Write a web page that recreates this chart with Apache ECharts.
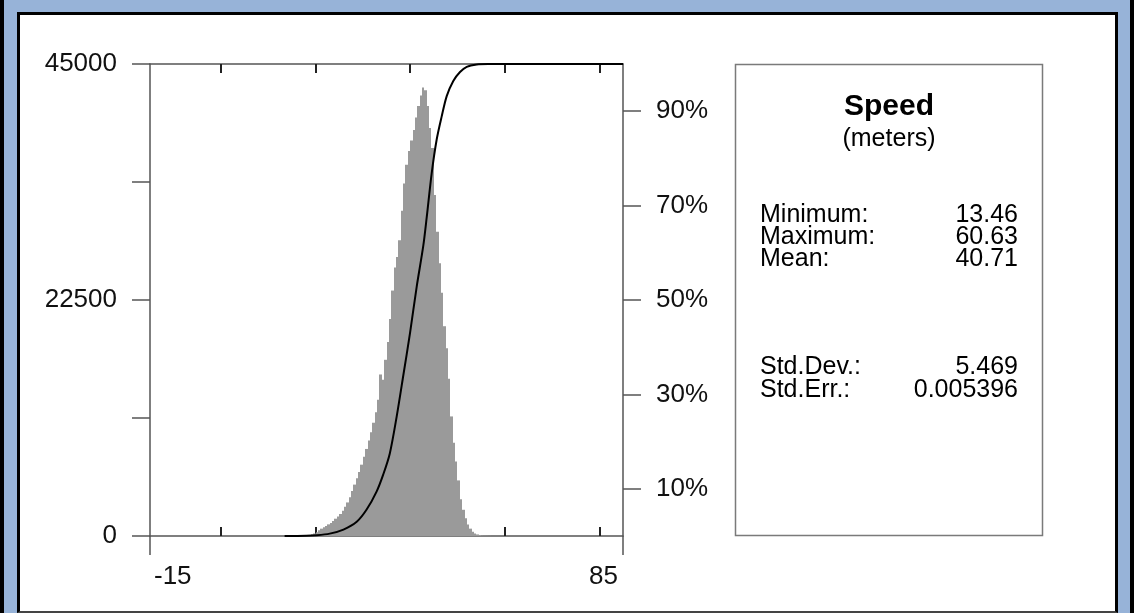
<!DOCTYPE html>
<html>
<head>
<meta charset="utf-8">
<script src="https://cdn.jsdelivr.net/npm/echarts@6/dist/echarts.min.js"></script>
<style>
  html, body { margin: 0; padding: 0; background: #fff; }
  #frame { position: absolute; left: 0; top: 0; width: 1134px; height: 613px; background: #97b3d8;
           border-left: 4px solid #000; border-right: 4px solid #000; box-sizing: border-box; }
  #inner { position: absolute; left: 17px; top: 12px; width: 1101px; height: 601px; background: #fff;
           border: 3px solid #000; border-bottom: 2px solid #444; box-sizing: border-box; }
  #chart { position: absolute; left: 0; top: 0; width: 1134px; height: 613px; }
</style>
</head>
<body>
<div id="frame"></div>
<div id="inner"></div>
<div id="chart"></div>
<script>
// ---- Data ----
const title = 'Speed';
const unitText = '(meters)';
const statLabels = ['Minimum:', 'Maximum:', 'Mean:', 'Std.Dev.:', 'Std.Err.:'];
const statValues = ['13.46', '60.63', '40.71', '5.469', '0.005396'];

const xTickLabels = [-15, 85];
const xInnerTicks = [0, 20, 40, 60, 80];
const yLeftLabels = [0, 22500, 45000];
const yRightLabels = [10, 30, 50, 70, 90];

// histogram: bins of width 0.5 starting at 13.5
const binStart = 13.5;
const binWidth = 0.5;
const binCounts = [
  2, 3, 4, 6, 8, 12, 18, 28, 42, 60,
  100, 170, 240, 360, 560, 700, 840, 960, 1110, 1250,
  1440, 1650, 1850, 2100, 2400, 2780, 3200, 3700, 4300, 4900,
  5500, 6100, 6800, 7550, 8300, 9100, 9900, 10800, 11800, 13000,
  15400, 14900, 16800, 18500, 20700, 23400, 25600, 26600, 28200, 31000,
  33600, 35400, 36700, 37700, 38700, 39900, 41000, 42000, 42750, 42500,
  41000, 38900, 37000, 32500, 29000, 26000, 23200, 20000, 17900, 15000,
  11400, 8900, 7100, 5300, 3500, 2500, 1700, 1100, 700, 400,
  250, 150, 90, 55, 35, 22, 15, 10, 7, 5,
  3, 2, 1, 1
];

// cumulative curve (percent)
const cdfX   = [13.46, 18, 20.2, 23.0, 25.9, 28.7, 30.8, 32.9, 34.3, 35.7, 37.15, 38.55, 39.97, 41.38, 42.78, 43.5, 44.56, 45.61, 46.67, 47.73, 49.12, 50.54, 51.96, 54.07, 56.5, 60.63, 85];
const cdfPct = [0, 0.05, 0.15, 0.5, 1.36, 3.0, 5.6, 9.4, 13.0, 17.5, 25.3, 34.0, 43.0, 52.8, 61.5, 67.5, 76.9, 84.0, 88.9, 93.2, 96.4, 98.3, 99.4, 99.9, 100, 100, 100];

// ---- Build ----
const histData = binCounts.map((c, i) => [binStart + i * binWidth, binStart + (i + 1) * binWidth, c]);
const cdfData = cdfX.map((x, i) => [x, cdfPct[i]]);

const FONT = 'Liberation Sans';
const axisColor = '#555';
const tickColor = '#222';
const plain = function (v) { return String(v); };

const chart = echarts.init(document.getElementById('chart'), null, { renderer: 'canvas' });

const baseX = {
  type: 'value', min: -15, max: 85, splitLine: { show: false },
};

const option = {
  backgroundColor: 'transparent',
  animation: false,
  grid: { left: 150, top: 64, width: 473, height: 472, containLabel: false },
  xAxis: [
    Object.assign({}, baseX, {
      position: 'bottom',
      axisLine: { show: true, onZero: false, lineStyle: { color: axisColor, width: 1.5 } },
      axisTick: { show: true, inside: true, length: 9, customValues: xInnerTicks, lineStyle: { color: tickColor, width: 2 } },
      axisLabel: { show: false }
    }),
    Object.assign({}, baseX, {
      position: 'bottom',
      axisLine: { show: false, onZero: false },
      axisTick: { show: true, length: 19, customValues: [xTickLabels[0]], lineStyle: { color: axisColor, width: 1.5 } },
      axisLabel: { show: true, customValues: [xTickLabels[0]], align: 'left', margin: 28, formatter: plain,
                   padding: [0, 0, 0, 4], fontSize: 26, fontFamily: FONT, color: '#111' }
    }),
    Object.assign({}, baseX, {
      position: 'bottom',
      axisLine: { show: false, onZero: false },
      axisTick: { show: true, length: 19, customValues: [xTickLabels[1]], lineStyle: { color: axisColor, width: 1.5 } },
      axisLabel: { show: true, customValues: [xTickLabels[1]], align: 'right', margin: 28, formatter: plain,
                   padding: [0, 5, 0, 0], fontSize: 26, fontFamily: FONT, color: '#111' }
    }),
    Object.assign({}, baseX, {
      position: 'top',
      axisLine: { show: true, onZero: false, lineStyle: { color: axisColor, width: 1.5 } },
      axisTick: { show: true, inside: true, length: 9, customValues: xInnerTicks, lineStyle: { color: tickColor, width: 2 } },
      axisLabel: { show: false }
    })
  ],
  yAxis: [
    {
      type: 'value', min: 0, max: 45000, interval: 11250, position: 'left',
      splitLine: { show: false },
      axisLine: { show: true, onZero: false, lineStyle: { color: axisColor, width: 1.5 } },
      axisTick: { show: true, length: 18, lineStyle: { color: axisColor, width: 1.5 } },
      axisLabel: { show: true, customValues: yLeftLabels, formatter: plain, margin: 33,
                   fontSize: 26, fontFamily: FONT, color: '#111' }
    },
    {
      type: 'value', min: 0, max: 100, position: 'right',
      splitLine: { show: false },
      axisLine: { show: true, onZero: false, lineStyle: { color: axisColor, width: 1.5 } },
      axisTick: { show: true, length: 18, customValues: yRightLabels, lineStyle: { color: axisColor, width: 1.5 } },
      axisLabel: { show: true, customValues: yRightLabels, formatter: function (v) { return v + '%'; }, margin: 33,
                   fontSize: 26, fontFamily: FONT, color: '#111' }
    }
  ],
  series: [
    {
      type: 'custom',
      xAxisIndex: 0, yAxisIndex: 0,
      z: 1,
      data: histData,
      renderItem: function (params, api) {
        const lo = api.value(0), hi = api.value(1), c = api.value(2);
        const p0 = api.coord([lo, c]);
        const p1 = api.coord([hi, 0]);
        const x0 = Math.round(p0[0]);
        const x1 = Math.round(p1[0]);
        return {
          type: 'rect',
          shape: { x: x0, y: p0[1], width: Math.max(x1 - x0, 1), height: p1[1] - p0[1] },
          style: { fill: '#9a9a9a' }
        };
      }
    },
    {
      type: 'line',
      xAxisIndex: 0, yAxisIndex: 1,
      data: cdfData,
      showSymbol: false,
      smooth: 0.3,
      clip: false,
      z: 3,
      lineStyle: { color: '#000', width: 2 }
    }
  ],
  graphic: [
    { type: 'rect', shape: { x: 735.5, y: 64.5, width: 307, height: 471 },
      style: { fill: '#fff', stroke: '#7a7a7a', lineWidth: 1.5 } },
    { type: 'text', x: 889, y: 107,
      style: { text: title, fontSize: 30, fontWeight: 'bold', fontFamily: FONT, fill: '#000',
               align: 'center', verticalAlign: 'middle', textAlign: 'center', textVerticalAlign: 'middle' } },
    { type: 'text', x: 889, y: 139,
      style: { text: unitText, fontSize: 25, fontFamily: FONT, fill: '#000',
               align: 'center', verticalAlign: 'middle', textAlign: 'center', textVerticalAlign: 'middle' } }
  ].concat((function () {
    const rowsY = [215, 237, 259, 367, 390.5];
    const out = [];
    statLabels.forEach(function (lab, i) {
      out.push({ type: 'text', x: 760, y: rowsY[i],
        style: { text: lab, fontSize: 25, fontFamily: FONT, fill: '#000',
                 align: 'left', verticalAlign: 'middle', textAlign: 'left', textVerticalAlign: 'middle' } });
      out.push({ type: 'text', x: 1018, y: rowsY[i],
        style: { text: statValues[i], fontSize: 25, fontFamily: FONT, fill: '#000',
                 align: 'right', verticalAlign: 'middle', textAlign: 'right', textVerticalAlign: 'middle' } });
    });
    return out;
  })())
};

chart.setOption(option);
</script>
</body>
</html>
